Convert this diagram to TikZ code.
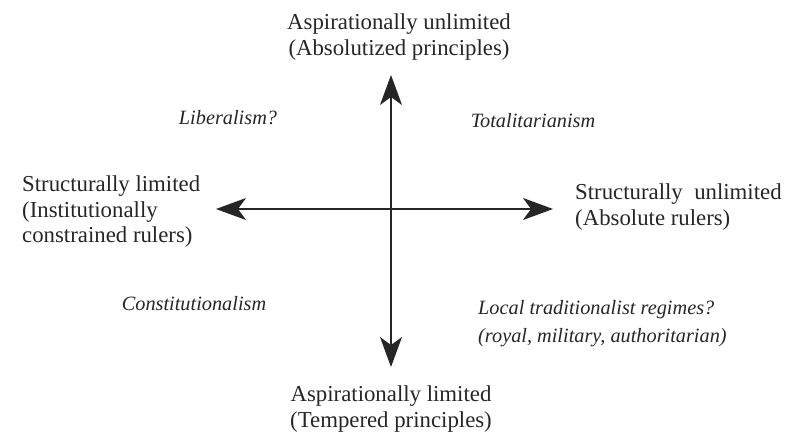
\documentclass[tikz,border=0pt]{standalone}
\usepackage{fontspec}
\setmainfont{Liberation Serif}
\usetikzlibrary{arrows.meta}
\definecolor{ink}{HTML}{262626}
\tikzset{
  axislabel/.style={inner sep=0pt, text=ink, font=\fontsize{22.8}{25.5}\selectfont},
  quadlabel/.style={inner sep=0pt, text=ink, font=\fontsize{20.3}{28}\selectfont\itshape},
  axis/.style={draw=ink, line width=1.2pt, {Stealth[length=30pt,width=22pt,inset=8pt]}-{Stealth[length=30pt,width=22pt,inset=8pt]}}
}
\begin{document}
\begin{tikzpicture}[x=1pt,y=-1pt]
\useasboundingbox (0,0) rectangle (793,434);
\coordinate (top) at (391,75);
\coordinate (bottom) at (391,367);
\coordinate (left) at (216,209);
\coordinate (right) at (553,209);
\draw[axis] (top) -- (bottom);
\draw[axis] (left) -- (right);
\node[axislabel, align=center] (tlab) at (399,37) {Aspirationally unlimited\\(Absolutized principles)};
\node[axislabel, align=center] (blab) at (391,409) {Aspirationally limited\\(Tempered principles)};
\node[axislabel, align=left, anchor=west] (llab) at (22,212) {Structurally limited\\(Institutionally\\constrained rulers)};
\node[axislabel, align=left, anchor=west] (rlab) at (575,207) {Structurally\ \ unlimited\\(Absolute rulers)};
\node[quadlabel] (lib) at (228,118) {Liberalism?};
\node[quadlabel] (tot) at (533,121) {Totalitarianism};
\node[quadlabel] (con) at (194,304) {Constitutionalism};
\node[quadlabel, align=left, anchor=west] (loc) at (478,324) {Local traditionalist regimes?\\(royal, military, authoritarian)};
\end{tikzpicture}
\end{document}
